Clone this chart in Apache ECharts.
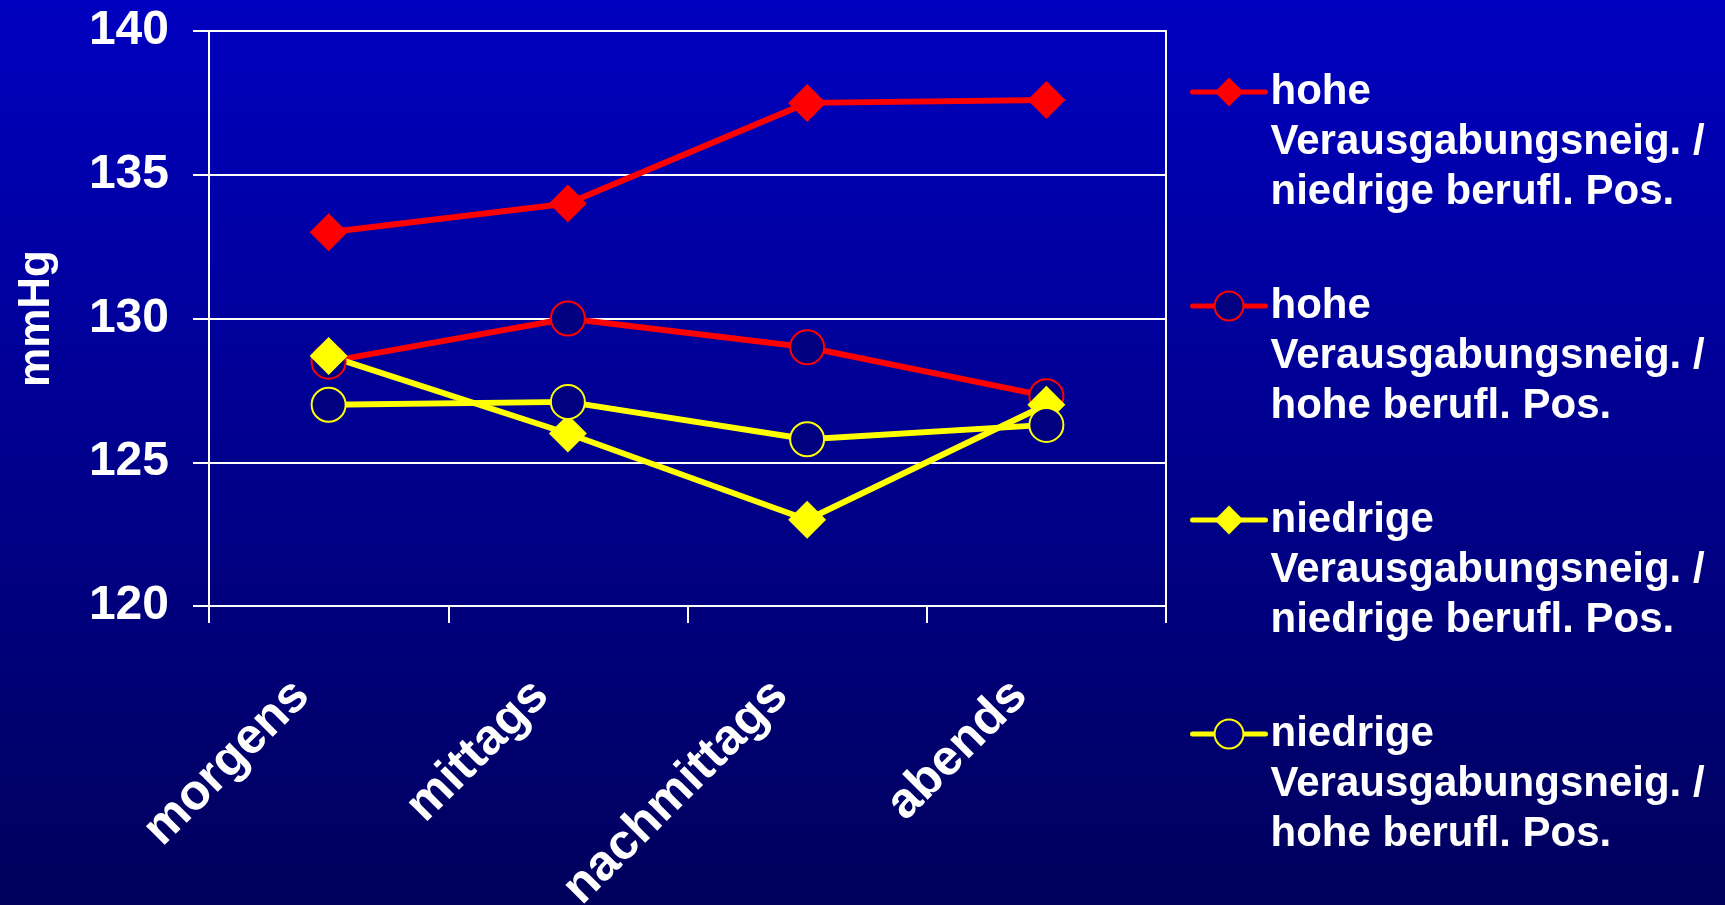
<!DOCTYPE html>
<html>
<head>
<meta charset="utf-8">
<script src="https://cdn.jsdelivr.net/npm/echarts@6/dist/echarts.min.js"></script>
<style>
  html, body { margin: 0; padding: 0; }
  #chart { width: 1725px; height: 905px; }
</style>
</head>
<body>
<div id="chart"></div>
<script>
const categories = ['morgens', 'mittags', 'nachmittags', 'abends']
const seriesNames = [
  'hohe\nVerausgabungsneig. /\nniedrige berufl. Pos.',
  'hohe\nVerausgabungsneig. /\nhohe berufl. Pos.',
  'niedrige\nVerausgabungsneig. /\nniedrige berufl. Pos.',
  'niedrige\nVerausgabungsneig. /\nhohe berufl. Pos.',
]
const hoheNiedrig = [133.0, 134.0, 137.5, 137.6]
const hoheHoch = [128.5, 130.0, 129.0, 127.3]
const niedrigNiedrig = [128.7, 126.0, 123.0, 127.0]
const niedrigHoch = [127.0, 127.1, 125.8, 126.3]
const yTicks = { min: 120, max: 140, step: 5 }

const FONT = '"Liberation Sans", Arial, sans-serif'

const chart = echarts.init(document.getElementById('chart'))

const makeSeries = (name, data, color, symbol) => {
  const isCircle = symbol === 'circle'
  return {
    name: name,
    type: 'line',
    data: data,
    symbol: symbol,
    symbolSize: isCircle ? 34 : 38,
    showAllSymbol: true,
    lineStyle: { color: color, width: 6 },
    itemStyle: isCircle
      ? { color: '#000080', borderColor: color, borderWidth: 2 }
      : { color: color, borderWidth: 0 },
    emphasis: { disabled: true },
    animation: false,
  }
}

chart.setOption({
  backgroundColor: new echarts.graphic.LinearGradient(0, 0, 0, 1, [
    { offset: 0, color: '#0000c0' },
    { offset: 1, color: '#00005c' },
  ]),
  textStyle: { fontFamily: FONT },
  grid: {
    left: 209,
    right: 559,
    top: 31,
    bottom: 299,
    outerBoundsMode: 'none',
    show: true,
    borderColor: '#ffffff',
    borderWidth: 2,
    backgroundColor: 'transparent',
  },
  legend: {
    orient: 'vertical',
    left: 1190,
    top: -33,
    padding: 0,
    itemGap: -36,
    itemWidth: 73,
    itemHeight: 36,
    selectedMode: false,
    data: seriesNames,
    // two empty lines on top so the icon sits on the first text line
    formatter: (name) => '\n\n' + name,
    lineStyle: { width: 5, cap: 'round' },
    textStyle: {
      color: '#ffffff',
      fontFamily: FONT,
      fontWeight: 'bold',
      fontSize: 42,
      lineHeight: 50,
    },
  },
  xAxis: {
    type: 'category',
    data: categories,
    axisLine: { show: true, lineStyle: { color: '#ffffff', width: 2 } },
    axisTick: { show: true, length: 17, lineStyle: { color: '#ffffff', width: 2 } },
    axisLabel: {
      interval: 0,
      rotate: 45,
      margin: 109,
      color: '#ffffff',
      fontFamily: FONT,
      fontWeight: 'bold',
      fontSize: 50,
      lineHeight: 76,
      verticalAlign: 'bottom',
    },
  },
  yAxis: {
    type: 'value',
    min: yTicks.min,
    max: yTicks.max,
    interval: yTicks.step,
    name: 'mmHg',
    nameLocation: 'middle',
    nameGap: 150,
    nameTextStyle: {
      color: '#ffffff',
      fontFamily: FONT,
      fontWeight: 'bold',
      fontSize: 44,
    },
    axisLine: { show: true, lineStyle: { color: '#ffffff', width: 2 } },
    axisTick: { show: true, length: 16, lineStyle: { color: '#ffffff', width: 2 } },
    splitLine: { show: true, lineStyle: { color: '#ffffff', width: 2 } },
    axisLabel: {
      margin: 40,
      color: '#ffffff',
      fontFamily: FONT,
      fontWeight: 'bold',
      fontSize: 48,
    },
  },
  series: [
    makeSeries(seriesNames[0], hoheNiedrig, '#ff0000', 'diamond'),
    makeSeries(seriesNames[1], hoheHoch, '#ff0000', 'circle'),
    makeSeries(seriesNames[2], niedrigNiedrig, '#ffff00', 'diamond'),
    makeSeries(seriesNames[3], niedrigHoch, '#ffff00', 'circle'),
  ],
})
</script>
</body>
</html>
